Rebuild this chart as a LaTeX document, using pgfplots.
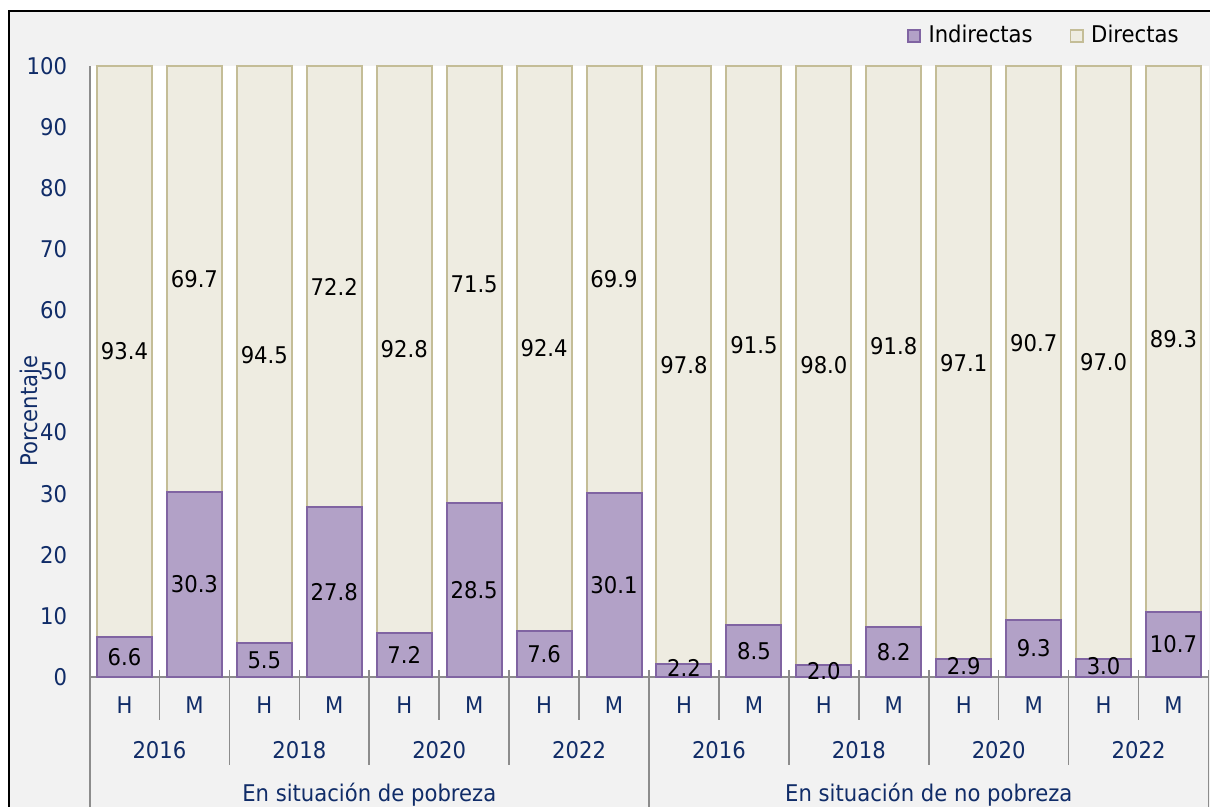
\documentclass[border=0pt]{standalone}
\usepackage{fontspec}
\setmainfont{DejaVu Sans}[FakeStretch=0.92]
\usepackage{pgfplots}
\pgfplotsset{compat=1.18}
\usepackage{pgfplotstable}

\definecolor{purpF}{RGB}{178,161,199}
\definecolor{purpD}{RGB}{128,100,162}
\definecolor{begF}{RGB}{238,236,225}
\definecolor{begD}{RGB}{196,189,151}
\definecolor{txtblue}{RGB}{16,44,104}
\definecolor{bggray}{RGB}{242,242,242}
\definecolor{linegray}{RGB}{140,140,140}

\pgfplotstableread{
x ind dir
0 6.6 93.4
1 30.3 69.7
2 5.5 94.5
3 27.8 72.2
4 7.2 92.8
5 28.5 71.5
6 7.6 92.4
7 30.1 69.9
8 2.2 97.8
9 8.5 91.5
10 2.0 98.0
11 8.2 91.8
12 2.9 97.1
13 9.3 90.7
14 3.0 97.0
15 10.7 89.3
}\datatab

% label positions: centre of each segment
\pgfplotstableread{
x y lab
0 3.3 6.6
1 15.15 30.3
2 2.75 5.5
3 13.9 27.8
4 3.6 7.2
5 14.25 28.5
6 3.8 7.6
7 15.05 30.1
8 1.5 2.2
9 4.25 8.5
10 1.0 2.0
11 4.1 8.2
12 1.8 2.9
13 4.65 9.3
14 1.8 3.0
15 5.35 10.7
0 53.3 93.4
1 65.15 69.7
2 52.75 94.5
3 63.9 72.2
4 53.6 92.8
5 64.25 71.5
6 53.8 92.4
7 65.05 69.9
8 51.1 97.8
9 54.25 91.5
10 51.0 98.0
11 54.1 91.8
12 51.45 97.1
13 54.65 90.7
14 51.5 97.0
15 55.35 89.3
}\labtab

\begin{document}
\fontsize{11.5}{13}\selectfont
\begin{tikzpicture}
% background
\fill[white] (-44.75pt,-65pt) rectangle (560.25pt,338.5pt);
\fill[bggray] (-40.25pt,-65pt) rectangle (560.25pt,333pt);
\draw[black,line width=1pt] (-40.25pt,-65pt) -- (-40.25pt,333pt) -- (560.25pt,333pt);

\begin{axis}[
  at={(0,0)}, anchor=south west,
  scale only axis, width=559.5pt, height=305.5pt,
  xmin=-0.5, xmax=15.5, ymin=0, ymax=100,
  enlargelimits=false, clip=false,
  ybar stacked, bar width=27.5pt,
  axis background/.style={fill=white},
  axis lines*=left,
  axis line style={draw=linegray, line width=1pt},
  major tick length=0pt,
  ytick={0,10,...,100},
  yticklabel style={text=txtblue, anchor=east, inner sep=0pt, xshift=-11pt, font=\fontsize{11.5}{13}\selectfont},
  /pgf/number format/assume math mode=true,
  xtick={0,...,15},
  xticklabels={H,M,H,M,H,M,H,M,H,M,H,M,H,M,H,M},
  xticklabel style={text=txtblue, anchor=center, inner sep=0pt, yshift=-14pt, font=\fontsize{11.5}{13}\selectfont},
  ylabel={Porcentaje},
  ylabel style={at={(axis description cs:-0.0523,0.435)}, anchor=center, text=txtblue, font=\fontsize{11.5}{13}\selectfont},
  area legend,
  legend image code/.code={\draw[#1,line width=0.9pt] (0pt,-3.1pt) rectangle (6.2pt,3.1pt);},
  legend style={at={(0.9763,1.0491)}, anchor=east, draw=none, fill=none, inner sep=0pt,
    legend columns=2, font=\fontsize{11.5}{13}\selectfont,
    nodes={inner sep=1.5pt},
    /tikz/every odd column/.append style={column sep=2.2pt},
    /tikz/every even column/.append style={column sep=17pt}},
]
\addplot[fill=purpF, draw=purpD, line width=1pt] table[x=x,y=ind]{\datatab};
\addplot[fill=begF, draw=begD, line width=1pt] table[x=x,y=dir]{\datatab};
\legend{Indirectas,Directas}
\end{axis}

\begin{axis}[
  at={(0,0)}, anchor=south west,
  scale only axis, width=559.5pt, height=305.5pt,
  xmin=-0.5, xmax=15.5, ymin=0, ymax=100,
  enlargelimits=false, clip=false, hide axis,
]
\addplot[only marks, mark=none, nodes near coords, point meta=explicit symbolic,
  every node near coord/.append style={anchor=center, inner sep=0pt, text=black, font=\fontsize{11.5}{13}\selectfont}]
  table[x=x,y=y,meta=lab]{\labtab};
\end{axis}

% separators
\foreach \k in {1,3,5,7,9,11,13,15}
  \draw[linegray,line width=0.8pt] (\k*34.96875pt,3.5pt) -- (\k*34.96875pt,-21.5pt);
\foreach \k in {2,4,6,10,12,14}
  \draw[linegray,line width=0.8pt] (\k*34.96875pt,3.5pt) -- (\k*34.96875pt,-44pt);
\draw[linegray,line width=1pt] (0pt,0pt) -- (0pt,-65pt);
\draw[linegray,line width=0.8pt] (8*34.96875pt,3.5pt) -- (8*34.96875pt,-65pt);
\draw[linegray,line width=0.8pt] (16*34.96875pt,3.5pt) -- (16*34.96875pt,-65pt);

% year and group labels
\foreach \k/\yr in {0/2016,1/2018,2/2020,3/2022,4/2016,5/2018,6/2020,7/2022}
  \node[text=txtblue, anchor=center, inner sep=0pt] at ({(2*\k+1)*34.96875pt},-36.5pt) {\yr};
\node[text=txtblue, anchor=center, inner sep=0pt] at (4*34.96875pt,-59pt) {En situación de pobreza};
\node[text=txtblue, anchor=center, inner sep=0pt] at (12*34.96875pt,-59pt) {En situación de no pobreza};

\pgfresetboundingbox
\path (-44.75pt,-65pt) rectangle (560.25pt,338.5pt);
\end{tikzpicture}
\end{document}
